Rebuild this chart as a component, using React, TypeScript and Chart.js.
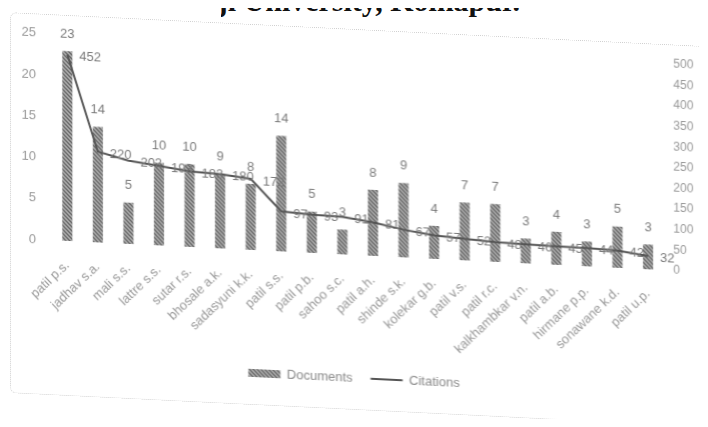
import React, { useEffect, useRef } from "react";
import { Chart, registerables } from "chart.js";

Chart.register(...registerables);

const categories = [
  "patil p.s.", "jadhav s.a.", "mali s.s.", "lattre s.s.", "sutar r.s.",
  "bhosale a.k.", "sadasyuni k.k.", "patil s.s.", "patil p.b.", "sahoo s.c.",
  "patil a.h.", "shinde s.k.", "kolekar g.b.", "patil v.s.", "patil r.c.",
  "kalkhambkar v.n.", "patil a.b.", "hirmane p.p.", "sonawane k.d.", "patil u.p.",
];
const documents = [23, 14, 5, 10, 10, 9, 8, 14, 5, 3, 8, 9, 4, 7, 7, 3, 4, 3, 5, 3];
const citations = [452, 220, 202, 193, 183, 180, 172, 97, 93, 91, 81, 67, 57, 52, 48, 46, 45, 44, 42, 32];
const leftAxisMax = 25;
const leftAxisStep = 5;
const rightAxisMax = 500;
const rightAxisStep = 50;
const titleText = "Shivaji University, Kolhapur.";

const FONT = '"Liberation Sans", Arial, sans-serif';

function makeHatch(): CanvasPattern | string {
  const c = document.createElement("canvas");
  c.width = 4;
  c.height = 4;
  const g = c.getContext("2d");
  if (!g) return "#999";
  g.fillStyle = "#b4b4b4";
  g.fillRect(0, 0, 4, 4);
  g.strokeStyle = "#626262";
  g.lineWidth = 1.3;
  g.beginPath();
  g.moveTo(0, 0);
  g.lineTo(4, 4);
  g.moveTo(-1, 3);
  g.lineTo(1, 5);
  g.moveTo(3, -1);
  g.lineTo(5, 1);
  g.stroke();
  const p = g.createPattern(c, "repeat");
  return p || "#999";
}

const valueLabels = {
  id: "valueLabels",
  afterDatasetsDraw(chart: any) {
    const ctx = chart.ctx;
    ctx.save();
    ctx.font = `13px ${FONT}`;
    ctx.fillStyle = "#7a7a7a";
    ctx.textBaseline = "middle";
    const barMeta = chart.getDatasetMeta(0);
    ctx.textAlign = "center";
    barMeta.data.forEach((el: any, i: number) => {
      ctx.fillText(String(documents[i]), el.x, el.y - 17);
    });
    const lineMeta = chart.getDatasetMeta(1);
    ctx.textAlign = "left";
    lineMeta.data.forEach((el: any, i: number) => {
      ctx.fillText(String(citations[i]), el.x + 12, el.y + 2);
    });
    ctx.restore();
  },
};

export default function App() {
  const ref = useRef<HTMLCanvasElement | null>(null);

  useEffect(() => {
    if (!ref.current) return;
    const hatch = makeHatch();
    const chart = new Chart(ref.current, {
      type: "bar",
      data: {
        labels: categories,
        datasets: [
          {
            type: "bar",
            label: "Documents",
            data: documents,
            backgroundColor: hatch as any,
            borderWidth: 0,
            barPercentage: 0.33,
            categoryPercentage: 1,
            yAxisID: "y",
            order: 2,
            pointStyle: "rect",
          },
          {
            type: "line",
            label: "Citations",
            data: citations,
            borderColor: "#555555",
            backgroundColor: "#555555",
            borderWidth: 2,
            pointRadius: 0,
            tension: 0,
            yAxisID: "y1",
            order: 1,
            pointStyle: "line",
          },
        ],
      },
      options: {
        responsive: false,
        animation: false,
        devicePixelRatio: 1,
        layout: { padding: { top: 22, bottom: 10.5, left: 0, right: 0 } },
        plugins: {
          legend: {
            position: "bottom",
            labels: {
              usePointStyle: true,
              pointStyleWidth: 32,
              boxHeight: 8,
              color: "#888",
              font: { family: FONT, size: 13 },
              padding: 18,
              sort: (a: any, b: any) => a.datasetIndex - b.datasetIndex,
            },
          },
          tooltip: { enabled: false },
        },
        scales: {
          x: {
            grid: { display: false, drawTicks: false },
            border: { display: false },
            ticks: {
              autoSkip: false,
              maxRotation: 45,
              minRotation: 45,
              color: "#999",
              font: { family: FONT, size: 13 },
              padding: 17,
            },
            afterFit: (s: any) => {
              s.height = 98.5;
            },
          },
          y: {
            position: "left",
            min: 0,
            max: leftAxisMax,
            grid: { display: false, drawTicks: false },
            border: { display: false },
            ticks: {
              stepSize: leftAxisStep,
              color: "#999",
              font: { family: FONT, size: 13 },
              padding: 16,
            },
            afterFit: (s: any) => {
              s.width = 44;
            },
          },
          y1: {
            position: "right",
            min: 0,
            max: rightAxisMax,
            grid: { display: false, drawTicks: false },
            border: { display: false },
            ticks: {
              stepSize: rightAxisStep,
              color: "#999",
              font: { family: FONT, size: 12 },
              padding: 10,
            },
            afterFit: (s: any) => {
              s.width = 36.7;
            },
          },
        },
      },
      plugins: [valueLabels],
    });
    return () => chart.destroy();
  }, []);

  return (
    <div style={{ position: "relative", width: 692, height: 411 }}>
      <div
        style={{
          position: "absolute",
          left: 213,
          top: -8,
          width: 320,
          height: 28,
          overflow: "hidden",
        }}
      >
        <div
          style={{
            position: "absolute",
            right: 21,
            top: -14,
            whiteSpace: "nowrap",
            font: 'bold 30px "Liberation Serif", serif',
            lineHeight: "30px",
            color: "#111",
          }}
        >
          {titleText}
        </div>
      </div>
      <div
        style={{
          position: "absolute",
          left: 0,
          top: 0,
          width: 692,
          height: 411,
          transform: "skewY(2.8deg)",
          transformOrigin: "0 0",
        }}
      >
        <div
          style={{
            position: "absolute",
            left: 2,
            top: 4,
            width: 698,
            height: 381,
            border: "1px dotted #cfcfcf",
            borderRadius: 6,
            boxSizing: "border-box",
          }}
        />
        <canvas
          ref={ref}
          width={692}
          height={380}
          style={{ position: "absolute", left: 0, top: 0, width: 692, height: 380 }}
        />
      </div>
    </div>
  );
}
